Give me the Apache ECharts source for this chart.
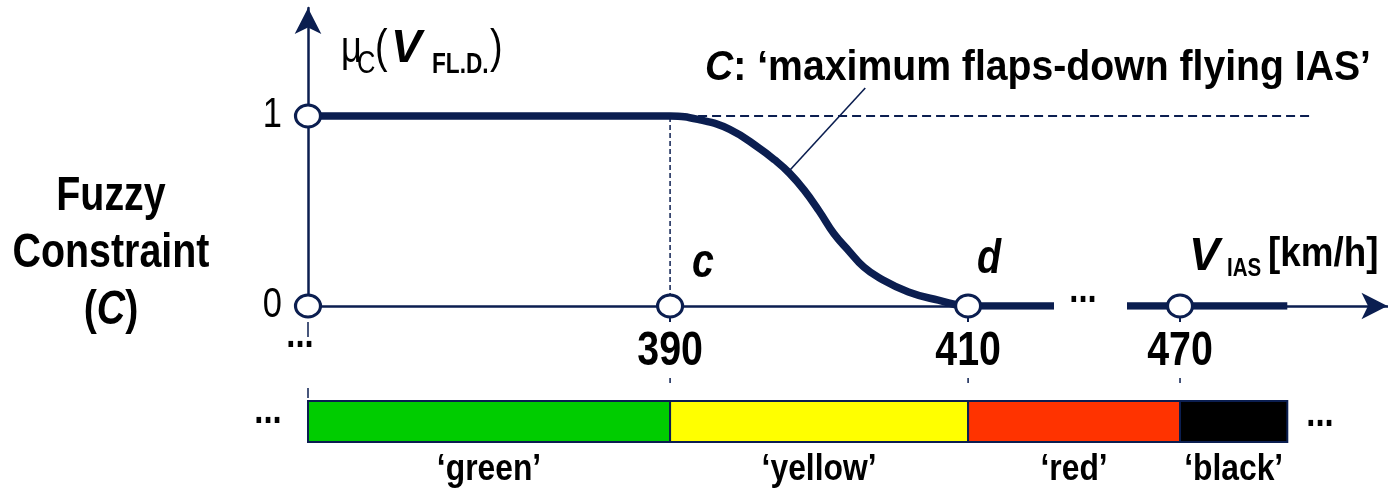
<!DOCTYPE html>
<html><head><meta charset="utf-8">
<script src="https://cdn.jsdelivr.net/npm/echarts@6/dist/echarts.min.js"></script>
<style>html,body{margin:0;padding:0;background:#fff}#c{width:1388px;height:493px}</style>
</head><body><div id="c"></div>
<script>
// ---------------- data ----------------
const tickSpeeds = [390, 410, 470];
const tickLabels = ['390', '410', '470'];
const yTickValues = [0, 1];
const yTickLabels = ['0', '1'];
const originSpeed = 365.7;                 // left end of the speed axis (shown as "…")
const curveSpeeds = [365, 390, 392, 394, 396, 397, 398, 399, 400, 401, 402, 403, 404, 406, 408, 410, 412, 477.2];
const curveMu     = [1, 1, 0.98, 0.93, 0.83, 0.77, 0.70, 0.61, 0.50, 0.38, 0.29, 0.205, 0.15, 0.074, 0.031, 0, 0, 0];
const markerSpeeds = [originSpeed, originSpeed, 390, 410, 470];
const markerMu     = [0, 1, 0, 0, 0];
const markerNames  = ['', '', 'c', 'd', ''];
const refLineSpeeds = [390, 478.7];        // dashed μ = 1 reference
const leaderSpeeds = [398.05, 403.1];
const leaderMu     = [0.716, 1.147];
const bandNames  = ['\u2018green\u2019', '\u2018yellow\u2019', '\u2018red\u2019', '\u2018black\u2019'];
const bandColors = ['#00CC00', '#FFFF00', '#FF3300', '#000000'];
const bandEdges  = [originSpeed, 390, 410, 470, 477.2];

// ---------------- layout / style ----------------
const NAVY = '#0b1e50';
const SANS = '"Liberation Sans",Arial,sans-serif';
const NX = 0.82;                            // horizontal squeeze = Arial Narrow
const AX_A = { min: originSpeed, max: 415.43 };
const AX_B = { min: 466.71, max: 483.925 };
const GRID_TOP = 8, GRID_H = 298;
const Y_MAX = GRID_H / 190;
const BAR_TOP = 401, BAR_H = 41, BAND_LABEL_BASE = 483;
const labelOffsets = { c: [22, -26], d: [9, -30] };   // px from the marker centre to the label (left, baseline)

const chart = echarts.init(document.getElementById('c'), null, { renderer: 'canvas' });

function xPx(api, v) {
  if (v <= AX_A.max) return api.coord([v, 0])[0];
  return chart.convertToPixel({ gridIndex: 1 }, [v, 0])[0];
}
// text element whose baseline sits at `base`
function txt(text, x, base, fs, font, align, sx, extra) {
  return {
    type: 'text', z: 20, silent: true, x: x, y: base - 0.3465 * fs, scaleX: sx || 1,
    style: Object.assign({
      text, x: 0, y: 0, font, fill: '#000',
      align: align, verticalAlign: 'middle', textAlign: align, textVerticalAlign: 'middle'
    }, extra || {})
  };
}
const ELLIPSE = 'path://M0,10A10,10,0,1,1,20,10A10,10,0,1,1,0,10Z';

function xAxisCfg(grid, ax, vals, arrow) {
  return {
    gridIndex: grid, type: 'value', min: ax.min, max: ax.max,
    axisLine: { show: true, onZero: true, symbol: arrow ? ['none', 'arrow'] : 'none', symbolSize: [20, 26],
      lineStyle: { color: NAVY, width: 2.5 } },
    axisTick: { show: true, customValues: vals, length: 16, inside: false, lineStyle: { color: NAVY, width: 2 } },
    axisLabel: { show: false },
    splitLine: { show: false }
  };
}

const curveData = curveSpeeds.map((s, i) => [s, curveMu[i]]);
const thick = (g) => ({
  type: 'line', xAxisIndex: g, yAxisIndex: g, data: curveData, smooth: 0.45,
  symbol: 'none', clip: true, silent: true, z: 3,
  lineStyle: { color: NAVY, width: 7.5, cap: 'butt', join: 'round' }
});
const markers = (g) => ({
  type: 'scatter', xAxisIndex: g, yAxisIndex: g, clip: false, silent: true, z: 6,
  symbol: ELLIPSE, symbolSize: [25, 22],
  data: markerSpeeds.map((s, i) => [s, markerMu[i]]).filter(p => (g === 0 ? p[0] <= AX_A.max : p[0] > AX_A.max)),
  itemStyle: { color: '#fff', borderColor: NAVY, borderWidth: 3, opacity: 1 }
});

const option = {
  animation: false,
  backgroundColor: '#fff',
  grid: [
    { left: 308, top: GRID_TOP, width: 741, height: GRID_H, containLabel: false, outerBoundsMode: 'none' },
    { left: 1131, top: GRID_TOP, width: 256.5, height: GRID_H, containLabel: false, outerBoundsMode: 'none' }
  ],
  xAxis: [
    xAxisCfg(0, AX_A, tickSpeeds.filter(v => v <= AX_A.max), false),
    xAxisCfg(1, AX_B, tickSpeeds.filter(v => v > AX_A.max), true)
  ],
  yAxis: [
    { gridIndex: 0, type: 'value', min: 0, max: Y_MAX,
      axisLine: { show: true, symbol: ['none', 'arrow'], symbolSize: [20, 26], lineStyle: { color: NAVY, width: 2.5 } },
      axisTick: { show: false }, axisLabel: { show: false }, splitLine: { show: false } },
    { gridIndex: 1, type: 'value', min: 0, max: Y_MAX, show: false }
  ],
  series: [
    // colour band
    { type: 'custom', xAxisIndex: 0, yAxisIndex: 0, clip: false, silent: true, z: 1,
      data: bandNames.map((n, i) => [bandEdges[i], bandEdges[i + 1]]),
      renderItem(params, api) {
        const i = params.dataIndex;
        const x1 = xPx(api, bandEdges[i]), x2 = xPx(api, bandEdges[i + 1]);
        const ch = [
          { type: 'rect', shape: { x: x1, y: BAR_TOP, width: x2 - x1, height: BAR_H },
            style: { fill: bandColors[i], stroke: NAVY, lineWidth: 2 } },
          txt(bandNames[i], (x1 + x2) / 2, BAND_LABEL_BASE, 37, 'bold 37px ' + SANS, 'center', 0.86)
        ];
        if (i === 0) {
          ch.push({ type: 'line', shape: { x1: x1, y1: BAR_TOP - 13, x2: x1, y2: BAR_TOP - 3 }, style: { stroke: NAVY, lineWidth: 1.5 } });
          ch.push({ type: 'line', shape: { x1: x1, y1: 322, x2: x1, y2: 337 }, style: { stroke: NAVY, lineWidth: 1.5 } });
        } else {
          ch.push({ type: 'line', shape: { x1: x1, y1: BAR_TOP - 23, x2: x1, y2: BAR_TOP - 18 }, style: { stroke: NAVY, lineWidth: 1.5 } });
        }
        return { type: 'group', children: ch };
      } },
    // x tick labels
    { type: 'custom', xAxisIndex: 0, yAxisIndex: 0, clip: false, silent: true, z: 8,
      data: tickSpeeds.map(v => [v, 0]),
      renderItem(params, api) {
        const i = params.dataIndex;
        const y0 = api.coord([AX_A.min, 0])[1];
        return txt(tickLabels[i], xPx(api, tickSpeeds[i]), y0 + 62, 48, 'bold 48px ' + SANS, 'center', NX);
      } },
    // y tick labels
    { type: 'custom', xAxisIndex: 0, yAxisIndex: 0, clip: false, silent: true, z: 8,
      data: yTickValues.map(v => [AX_A.min, v]),
      renderItem(params, api) {
        const i = params.dataIndex;
        const p = api.coord([AX_A.min, yTickValues[i]]);
        return txt(yTickLabels[i], p[0] - 26, p[1] + 13.5, 42, '42px ' + SANS, 'right', NX);
      } },
    // point names c, d
    { type: 'custom', xAxisIndex: 0, yAxisIndex: 0, clip: false, silent: true, z: 8,
      data: markerSpeeds.map((s, i) => [s, markerMu[i]]),
      renderItem(params, api) {
        const i = params.dataIndex, n = markerNames[i];
        if (!n) return null;
        const p = api.coord([markerSpeeds[i], markerMu[i]]);
        const o = labelOffsets[n];
        return txt(n, p[0] + o[0], p[1] + o[1], 48, 'italic bold 48px ' + SANS, 'left', NX);
      } },
    // dashed mu=1 reference line (crosses the axis break)
    { type: 'custom', xAxisIndex: 0, yAxisIndex: 0, clip: false, silent: true, z: 2,
      data: [[refLineSpeeds[0], 1]],
      renderItem(params, api) {
        const y = api.coord([refLineSpeeds[0], 1])[1];
        return { type: 'line', shape: { x1: xPx(api, refLineSpeeds[0]), y1: y, x2: xPx(api, refLineSpeeds[1]), y2: y },
          style: { stroke: NAVY, lineWidth: 1.8, lineDash: [9, 5] } };
      } },
    // dashed vertical at c
    { type: 'line', xAxisIndex: 0, yAxisIndex: 0, data: [[tickSpeeds[0], 0], [tickSpeeds[0], 1]], symbol: 'none', silent: true, z: 2,
      lineStyle: { color: NAVY, width: 1.5, type: [5, 3] } },
    // leader line
    { type: 'line', xAxisIndex: 0, yAxisIndex: 0, data: leaderSpeeds.map((s, i) => [s, leaderMu[i]]), symbol: 'none', silent: true, z: 2,
      clip: false, lineStyle: { color: NAVY, width: 1.6 } },
    thick(0), thick(1),
    markers(0), markers(1)
  ],
  graphic: { elements: [
    txt('Fuzzy', 111, 213, 48, 'bold 48px ' + SANS, 'center', NX),
    txt('Constraint', 111, 270, 48, 'bold 48px ' + SANS, 'center', NX),
    txt('{n|(}{i|C}{n|)}', 111, 327, 48, 'bold 48px ' + SANS, 'center', NX, {
      rich: { n: { font: 'bold 48px ' + SANS, fill: '#000' }, i: { font: 'italic bold 48px ' + SANS, fill: '#000' } } }),
    // y-axis name  μC(VFL.D.)
    txt('\u03bc', 341, 65, 44, '44px ' + SANS, 'left', NX),
    txt('C', 357, 75, 31, '31px ' + SANS, 'left', NX),
    txt('(', 375, 65, 46, '46px ' + SANS, 'left', NX),
    txt('V', 391, 65, 46, 'italic bold 46px ' + SANS, 'left', 1),
    txt('FL.D.', 432, 75, 29, 'bold 29px ' + SANS, 'left', 0.78),
    txt(')', 490, 65, 46, '46px ' + SANS, 'left', NX),
    // constraint title
    txt('{i|C}{b|: \u2018maximum flaps-down flying IAS\u2019}', 705, 83, 43, 'bold 43px ' + SANS, 'left', 0.911, {
      rich: { i: { font: 'italic bold 43px ' + SANS, fill: '#000' }, b: { font: 'bold 43px ' + SANS, fill: '#000' } } }),
    // x-axis name  V_IAS [km/h]
    txt('V', 1189, 273, 46, 'italic bold 46px ' + SANS, 'left', 1),
    txt('IAS', 1227, 278, 25, 'bold 25px ' + SANS, 'left', NX),
    txt('[km/h]', 1268, 269, 40, 'bold 40px ' + SANS, 'left', 0.92),
    // ellipses
    txt('...', 300, 350, 40, 'bold 40px ' + SANS, 'center', NX),
    txt('...', 1083, 305, 40, 'bold 40px ' + SANS, 'center', NX),
    txt('...', 268, 426, 40, 'bold 40px ' + SANS, 'center', NX),
    txt('...', 1320, 429, 40, 'bold 40px ' + SANS, 'center', NX)
  ] }
};
chart.setOption(option);
</script>
</body></html>
